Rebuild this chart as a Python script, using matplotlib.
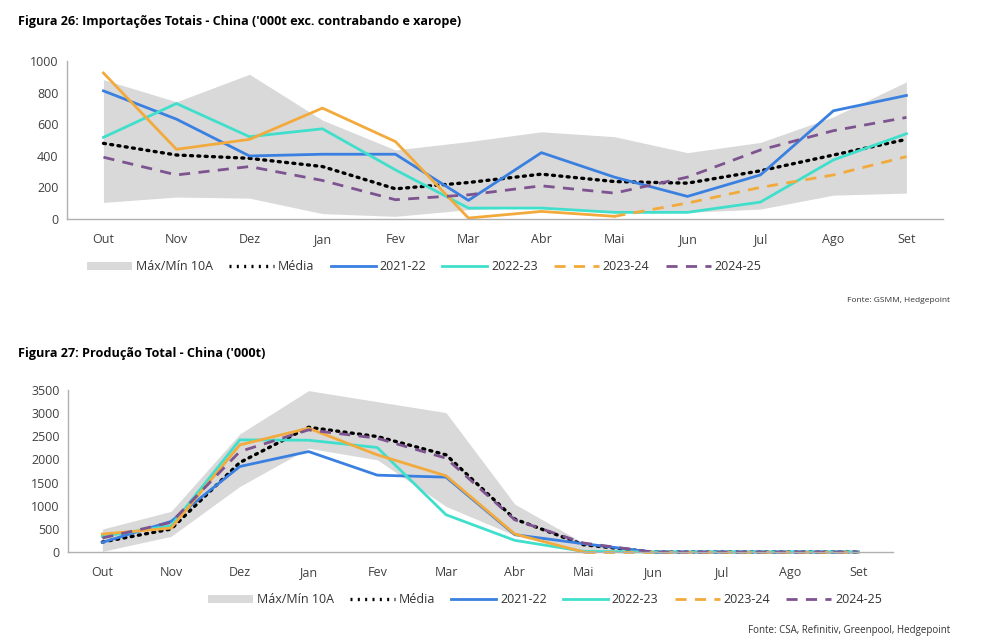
import numpy as np
import matplotlib
matplotlib.use("Agg")
import matplotlib.pyplot as plt
from matplotlib.patches import Patch
from matplotlib.lines import Line2D

plt.rcParams['font.family'] = ['Open Sans', 'DejaVu Sans']

meses = ["Out", "Nov", "Dez", "Jan", "Fev", "Mar", "Abr", "Mai", "Jun", "Jul", "Ago", "Set"]
nan = np.nan

# Figura 26 - importacoes ('000t)
imp_max = [882, 742, 916, 626, 437, 490, 552, 521, 420, 485, 647, 868]
imp_min = [105, 139, 132, 34, 17, 59, 75, 40, 42, 63, 151, 164]
imp_media = [479, 405, 384, 332, 191, 231, 284, 237, 227, 305, 405, 504]
imp_2122 = [811, 632, 399, 410, 410, 118, 420, 265, 143, 279, 685, 782]
imp_2223 = [517, 731, 521, 571, 311, 69, 69, 42, 42, 107, 374, 540]
imp_2324 = [924, 441, 504, 702, 490, 6, 48, 17, nan, nan, nan, nan]
imp_2324_proj = [nan, nan, nan, nan, nan, nan, nan, 17, 101, 200, 279, 395]
imp_2425 = [391, 279, 332, 244, 122, 153, 210, 164, 265, 437, 559, 643]

# Figura 27 - producao ('000t)
prod_max = [496, 877, 2551, 3486, 3248, 3011, 1035, 194, 0, 0, 0, 0]
prod_min = [14, 338, 1416, 2242, 1991, 985, 360, 0, 0, 0, 0, 0]
prod_media = [216, 496, 1933, 2695, 2494, 2099, 711, 158, 0, 0, 0, 0]
prod_2122 = [208, 661, 1847, 2170, 1660, 1617, 374, 180, 0, 0, 0, 0]
prod_2223 = [338, 568, 2422, 2415, 2257, 805, 252, 14, 0, 0, 0, 0]
prod_2324 = [388, 517, 2314, 2674, 2099, 1646, 388, 0, nan, nan, nan, nan]
prod_2324_proj = [nan, nan, nan, nan, nan, nan, nan, 0, 0, 0, 0, 0]
prod_2425 = [302, 640, 2170, 2638, 2458, 2027, 697, 194, 0, 0, 0, 0]

c_band = "#d9d9d9"
c_blue = "#3a80e0"
c_teal = "#40dfcc"
c_orange = "#f2aa3c"
c_purple = "#7d5390"
lw = 2.0

fig = plt.figure(figsize=(9.82, 6.43), dpi=100)


def desenha(ax, vmax, vmin, media, s1, s2, s3, s3p, s4, ytop, ystep):
    x = np.arange(len(meses))
    ax.fill_between(x, vmin, vmax, color=c_band, lw=0)
    ax.plot(x, media, color="black", lw=2.4, ls=(0, (0.6, 1.6)), dash_capstyle="round", clip_on=False)
    ax.plot(x, s1, color=c_blue, lw=lw, clip_on=False)
    ax.plot(x, s2, color=c_teal, lw=lw, clip_on=False)
    ax.plot(x, s3, color=c_orange, lw=lw, clip_on=False)
    ax.plot(x, s3p, color=c_orange, lw=lw, ls=(0, (4, 3)), clip_on=False)
    ax.plot(x, s4, color=c_purple, lw=lw, ls=(0, (4, 3)), clip_on=False)
    ax.set_xlim(-0.5, 11.5)
    ax.set_ylim(0, ytop)
    ax.set_yticks(np.arange(0, ytop + 1, ystep))
    ax.set_xticks(x)
    ax.set_xticklabels(meses)
    for s in ["top", "right"]:
        ax.spines[s].set_visible(False)
    for s in ["left", "bottom"]:
        ax.spines[s].set_color("#b0b0b0")
        ax.spines[s].set_linewidth(1.0)
    ax.tick_params(length=0, labelsize=9, colors="#404040")
    ax.tick_params(axis="x", pad=10)
    ax.tick_params(axis="y", pad=6)


ax1 = fig.add_axes([0.0682, 0.6594, 0.892, 0.2457])
desenha(ax1, imp_max, imp_min, imp_media, imp_2122, imp_2223, imp_2324,
        imp_2324_proj, imp_2425, 1000, 200)

ax2 = fig.add_axes([0.0692, 0.1415, 0.840, 0.252])
desenha(ax2, prod_max, prod_min, prod_media, prod_2122, prod_2223, prod_2324,
        prod_2324_proj, prod_2425, 3500, 500)

handles = [
    Patch(facecolor=c_band, edgecolor="none"),
    Line2D([], [], color="black", lw=2.4, ls=(0, (0.6, 1.6))),
    Line2D([], [], color=c_blue, lw=lw),
    Line2D([], [], color=c_teal, lw=lw),
    Line2D([], [], color=c_orange, lw=lw, ls=(0, (4, 3))),
    Line2D([], [], color=c_purple, lw=lw, ls=(0, (4, 3))),
]
labels = ["Máx/Mín 10A", "Média", "2021-22", "2022-23", "2023-24", "2024-25"]

for yc, xc in [(0.585, 0.432), (0.067, 0.555)]:
    fig.legend(handles, labels, loc="center", bbox_to_anchor=(xc, yc), ncol=6,
               frameon=False, fontsize=9, handlelength=3.6, handletextpad=0.3,
               columnspacing=1.3, labelcolor="#333333")

fig.text(0.018, 1 - 22 / 643, "Figura 26: Importações Totais - China ('000t exc. contrabando e xarope)",
         fontsize=9.1, fontweight="bold", va="center", ha="left")
fig.text(0.018, 1 - 353 / 643, "Figura 27: Produção Total - China ('000t)",
         fontsize=9.1, fontweight="bold", va="center", ha="left")
fig.text(950 / 982, 1 - 301 / 643, "Fonte: GSMM, Hedgepoint", fontsize=6,
         ha="right", va="center", color="#333333")
fig.text(950 / 982, 1 - 631 / 643, "Fonte: CSA, Refinitiv, Greenpool, Hedgepoint", fontsize=7,
         ha="right", va="center", color="#333333")

fig.savefig("out.png", dpi=100)
